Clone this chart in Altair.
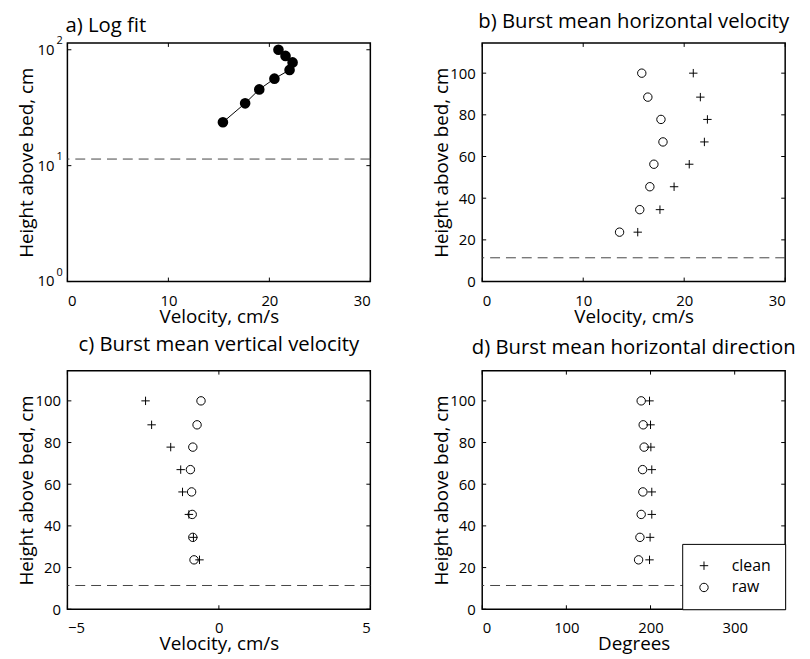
import altair as alt
import pandas as pd

# ---------------- data ----------------
HEIGHTS = [23.7, 34.5, 45.5, 56.3, 67.0, 77.8, 88.5, 100.0]
HORIZ_CLEAN = [15.4, 17.6, 19.0, 20.5, 22.0, 22.3, 21.6, 20.9]
HORIZ_RAW = [13.6, 15.6, 16.6, 17.0, 17.9, 17.7, 16.4, 15.8]
VERT_CLEAN = [-0.64, -0.84, -0.99, -1.20, -1.26, -1.59, -2.22, -2.42]
VERT_RAW = [-0.82, -0.86, -0.88, -0.90, -0.94, -0.86, -0.72, -0.59]
DIR_CLEAN = [198.8, 199.5, 201.5, 201.5, 201.5, 200.4, 200.0, 198.8]
DIR_RAW = [185.8, 187.4, 188.9, 190.9, 190.6, 192.4, 191.3, 188.9]
BED_LEVEL = [11.4]
SERIES = ["clean", "raw"]

TITLE_A = "a) Log fit"
TITLE_B = "b) Burst mean horizontal velocity"
TITLE_C = "c) Burst mean vertical velocity"
TITLE_D = "d) Burst mean horizontal direction"
X_TITLE_VEL = "Velocity, cm/s"
X_TITLE_DEG = "Degrees"
Y_TITLE = "Height above bed, cm"

X_DOM_VEL = [0, 30]
X_TICKS_VEL = [0, 10, 20, 30]
X_DOM_C = [-5, 5]
X_TICKS_C = [-5, 0, 5]
X_DOM_D = [0, 360]
X_TICKS_D = [0, 100, 200, 300]
Y_DOM_LIN = [0, 114.5]
Y_TICKS_LIN = [0, 20, 40, 60, 80, 100]
Y_DOM_LOG = [1, 114.5]
Y_TICKS_LOG = [1, 10, 100]
Y_LOG_EXP = ["0", "1", "2"]

# ---------------- style ----------------
W, H = 306, 241
TK = 4
FONT = "Open Sans"
PLUS = "M-1,0L1,0M0,-1L0,1"


def x_axis(ticks, title):
    return alt.Axis(values=ticks, ticks=False, tickSize=0, domain=False, grid=False,
                    labelFont=FONT, labelFontSize=15, labelColor="black", labelPadding=12,
                    title=title, titleFont=FONT, titleFontSize=19, titleFontWeight="normal",
                    titleColor="black", titleBaseline="alphabetic", titleX=W / 2, titleY=41)


def y_axis(ticks, labels=True):
    return alt.Axis(values=ticks, ticks=False, tickSize=0, domain=False, grid=False,
                    labels=labels,
                    labelFont=FONT, labelFontSize=15, labelColor="black", labelPadding=7,
                    title=Y_TITLE, titleFont=FONT, titleFontSize=19, titleFontWeight="normal",
                    titleColor="black", titleBaseline="middle", titleX=-41, titleY=H / 2)


def inner_ticks(xticks, yticks, xs, ys, xa, ya):
    dx = pd.DataFrame({"t": xticks})
    dy = pd.DataFrame({"t": yticks})
    base = dict(color="black", strokeWidth=1)
    bottom = alt.Chart(dx).mark_rule(**base).encode(
        x=alt.X("t:Q", scale=xs, axis=xa), y=alt.value(H), y2=alt.value(H - TK))
    top = alt.Chart(dx).mark_rule(**base).encode(
        x=alt.X("t:Q", scale=xs, axis=xa), y=alt.value(0), y2=alt.value(TK))
    left = alt.Chart(dy).mark_rule(**base).encode(
        y=alt.Y("t:Q", scale=ys, axis=ya), x=alt.value(0), x2=alt.value(TK))
    right = alt.Chart(dy).mark_rule(**base).encode(
        y=alt.Y("t:Q", scale=ys, axis=ya), x=alt.value(W - TK), x2=alt.value(W))
    return [bottom, top, left, right]


def bed_line(ys, ya):
    return alt.Chart(pd.DataFrame({"h": BED_LEVEL})).mark_rule(
        color="#444444", strokeDash=[10, 6], strokeWidth=1).encode(
        y=alt.Y("h:Q", scale=ys, axis=ya))


def title_mark(text, align, xpos, ypos):
    return alt.Chart(pd.DataFrame({"title": [text]})).mark_text(
        align=align, baseline="alphabetic", font=FONT, fontSize=20.5, color="black").encode(
        x=alt.value(xpos), y=alt.value(ypos), text="title:N")


# ---------------- panel a: log fit ----------------
xs_a = alt.Scale(domain=X_DOM_VEL, nice=False, zero=False)
ys_a = alt.Scale(type="log", domain=Y_DOM_LOG, nice=False)
xa_a = x_axis(X_TICKS_VEL, X_TITLE_VEL)
ya_a = y_axis(Y_TICKS_LOG, labels=False)
df_a = pd.DataFrame({"height": HEIGHTS, "value": HORIZ_CLEAN})

line_a = alt.Chart(df_a).mark_line(color="black", strokeWidth=1).encode(
    x=alt.X("value:Q", scale=xs_a, axis=xa_a),
    y=alt.Y("height:Q", scale=ys_a, axis=ya_a),
    order=alt.Order("height:Q"))
pts_a = alt.Chart(df_a).mark_point(filled=True, color="black", size=115, opacity=1,
                                   shape="circle").encode(
    x=alt.X("value:Q", scale=xs_a, axis=xa_a), y=alt.Y("height:Q", scale=ys_a, axis=ya_a))
df_lab = pd.DataFrame({"t": Y_TICKS_LOG, "e": Y_LOG_EXP})
base_lab = alt.Chart(df_lab).mark_text(align="right", baseline="middle", font=FONT,
                                       fontSize=15, color="black").encode(
    y=alt.Y("t:Q", scale=ys_a, axis=ya_a), x=alt.value(-13), text=alt.value("10"))
exp_lab = alt.Chart(df_lab).mark_text(align="left", baseline="middle", font=FONT,
                                      fontSize=11, color="black", dy=-9).encode(
    y=alt.Y("t:Q", scale=ys_a, axis=ya_a), x=alt.value(-11), text="e:N")

panel_a = alt.layer(bed_line(ys_a, ya_a), line_a, pts_a, base_lab, exp_lab,
                    title_mark(TITLE_A, "left", -2, -11.5),
                    *inner_ticks(X_TICKS_VEL, Y_TICKS_LOG, xs_a, ys_a, xa_a, ya_a)).properties(
    width=W, height=H)


# ---------------- scatter panels b, c, d ----------------
def scatter_panel(clean, raw, xdom, xticks, xtitle, ttl, tpos, legend):
    xs = alt.Scale(domain=xdom, nice=False, zero=False)
    ys = alt.Scale(domain=Y_DOM_LIN, nice=False, zero=False)
    xa = x_axis(xticks, xtitle)
    ya = y_axis(Y_TICKS_LIN)
    df = pd.DataFrame({
        "height": HEIGHTS + HEIGHTS,
        "value": clean + raw,
        "series": [SERIES[0]] * len(clean) + [SERIES[1]] * len(raw),
    })
    pts = alt.Chart(df).mark_point(filled=False, color="black", strokeWidth=1, size=72,
                                   opacity=1).encode(
        x=alt.X("value:Q", scale=xs, axis=xa),
        y=alt.Y("height:Q", scale=ys, axis=ya),
        shape=alt.Shape("series:N", scale=alt.Scale(domain=SERIES, range=[PLUS, "circle"]),
                        legend=legend))
    return alt.layer(bed_line(ys, ya), pts, title_mark(ttl, "center", W / 2, tpos),
                     *inner_ticks(xticks, Y_TICKS_LIN, xs, ys, xa, ya)).properties(
        width=W, height=H)


legend_d = alt.Legend(orient="none", legendX=202, legendY=175, title=None,
                      strokeColor="black", fillColor="white", padding=14, cornerRadius=0,
                      labelFont=FONT, labelFontSize=16, labelColor="black", labelOffset=20,
                      symbolSize=72, symbolStrokeColor="black", symbolStrokeWidth=1,
                      symbolFillColor="transparent", rowPadding=6)

panel_b = scatter_panel(HORIZ_CLEAN, HORIZ_RAW, X_DOM_VEL, X_TICKS_VEL, X_TITLE_VEL,
                        TITLE_B, -15, None)
panel_c = scatter_panel(VERT_CLEAN, VERT_RAW, X_DOM_C, X_TICKS_C, X_TITLE_VEL,
                        TITLE_C, -20, None)
panel_d = scatter_panel(DIR_CLEAN, DIR_RAW, X_DOM_D, X_TICKS_D, X_TITLE_DEG,
                        TITLE_D, -17, legend_d)

chart = alt.concat(panel_a, panel_b, panel_c, panel_d, columns=2,
                   spacing={"row": 90, "column": 113}, bounds="flush").resolve_scale(
    shape="independent").resolve_legend(shape="independent").properties(
    padding={"left": 9, "top": 0, "right": 5, "bottom": 5},
    background="white").configure_view(stroke="black", strokeWidth=1.5)

chart.save("out.html", embed_options={"renderer": "svg", "actions": False})
